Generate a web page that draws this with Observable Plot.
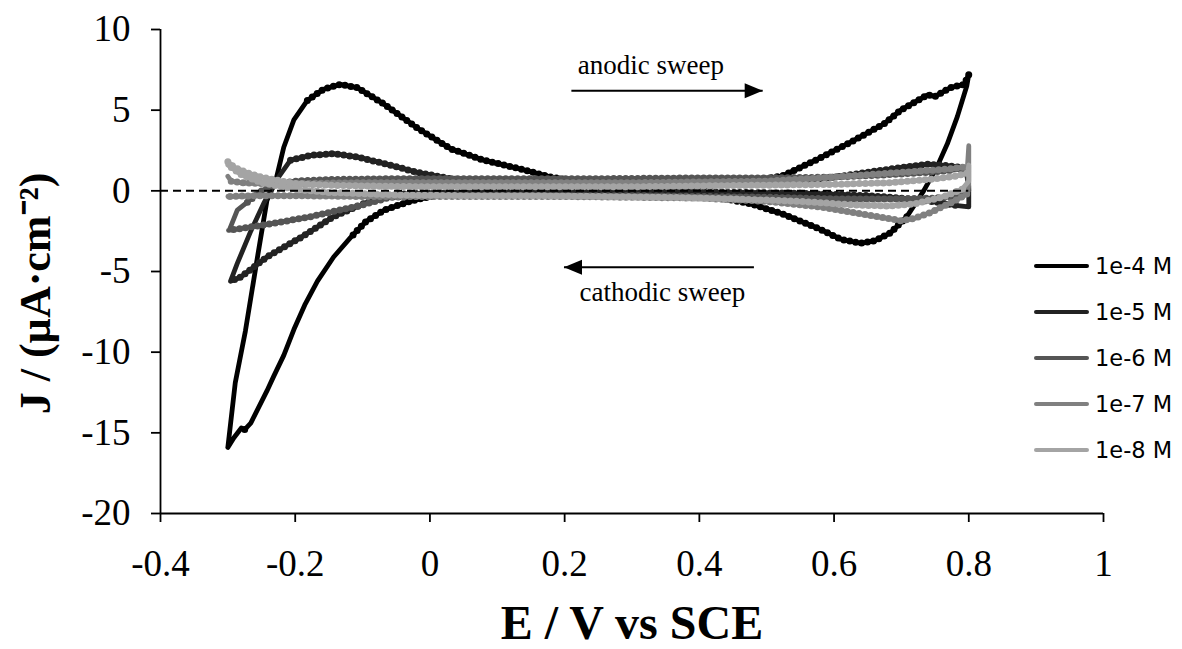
<!DOCTYPE html>
<html>
<head>
<meta charset="utf-8">
<script src="https://cdn.jsdelivr.net/npm/d3@7"></script>
<script src="https://cdn.jsdelivr.net/npm/@observablehq/plot@0.6"></script>
<style>
  body { margin: 0; background: #fff; }
  #chart { position: relative; width: 1182px; height: 649px; }
  #legend { position: absolute; left: 1034px; top: 0; font-family: "DejaVu Sans", sans-serif; font-size: 22.5px; color: #000; }
  #legend .row { position: absolute; left: 0; height: 30px; display: flex; align-items: center; white-space: nowrap; }
  #legend .swatch { width: 55px; height: 4.5px; border-radius: 2px; margin-right: 6px; }
</style>
</head>
<body>
<div id="chart"></div>
<script>
// Cyclic voltammograms at five concentrations: potential E (V vs SCE), current density J (µA·cm⁻²)
const concentrations = ["1e-4 M", "1e-5 M", "1e-6 M", "1e-7 M", "1e-8 M"];
const grays = ["#000000", "#222222", "#555555", "#808080", "#a4a4a4"];

// 1e-4 M: anodic sweep from -0.3 V to 0.8 V, then cathodic sweep back
const E_1e4 = [-0.300,-0.289,-0.274,-0.258,-0.242,-0.229,-0.217,-0.202,-0.182,-0.158,-0.133,-0.108,-0.069,-0.019,0.031,0.080,0.130,0.180,0.230,0.300,0.380,0.450,0.500,0.525,0.575,0.624,0.674,0.699,0.720,0.739,0.750,0.773,0.793,0.800,
               0.797,0.783,0.768,0.753,0.733,0.708,0.684,0.660,0.639,0.610,0.575,0.525,0.476,0.420,0.350,0.250,0.150,0.080,0.006,-0.030,-0.068,-0.095,-0.118,-0.143,-0.167,-0.185,-0.202,-0.217,-0.232,-0.242,-0.266,-0.275,-0.280,-0.291,-0.300];
const J_1e4 = [-15.9,-11.9,-8.7,-4.6,-0.6,0.6,2.7,4.4,5.6,6.3,6.6,6.4,5.4,3.9,2.6,1.9,1.4,0.85,0.5,0.3,0.25,0.45,0.75,0.95,1.95,3.0,4.15,5.0,5.5,5.95,5.85,6.4,6.6,7.2,
               6.5,4.6,2.9,1.5,0.0,-1.6,-2.6,-3.1,-3.25,-3.0,-2.3,-1.45,-0.8,-0.35,-0.1,0.0,0.05,-0.05,-0.3,-0.65,-1.2,-1.9,-2.9,-4.1,-5.6,-7.0,-8.6,-10.2,-11.5,-12.4,-14.4,-14.8,-14.7,-15.3,-15.9];

// 1e-5 M
const E_1e5 = [-0.296,-0.286,-0.266,-0.247,-0.229,-0.207,-0.177,-0.143,-0.108,-0.069,-0.019,0.031,0.080,0.150,0.250,0.350,0.450,0.530,0.600,0.650,0.700,0.740,0.770,0.795,
               0.800,0.800,0.780,0.753,0.700,0.650,0.550,0.450,0.350,0.250,0.150,0.080,0.020,-0.044,-0.093,-0.143,-0.192,-0.242,-0.281,-0.296];
const J_1e5 = [-5.6,-4.5,-2.5,-0.8,0.6,1.9,2.2,2.3,2.1,1.7,1.15,0.75,0.55,0.4,0.3,0.3,0.4,0.55,0.85,1.15,1.45,1.65,1.55,1.4,
               0.3,-1.0,-0.9,-0.7,-0.45,-0.3,-0.15,-0.1,-0.05,-0.05,-0.1,-0.15,-0.1,-0.2,-0.7,-1.6,-2.9,-4.1,-5.35,-5.6];

// 1e-6 M
const E_1e6 = [-0.298,-0.286,-0.271,-0.250,-0.230,-0.200,-0.150,-0.050,0.100,0.250,0.400,0.500,0.600,0.680,0.740,0.780,0.798,
               0.800,0.790,0.750,0.700,0.600,0.500,0.400,0.300,0.200,0.100,0.000,-0.059,-0.103,-0.140,-0.177,-0.217,-0.252,-0.299];
const J_1e6 = [-2.45,-1.2,-0.7,0.0,0.4,0.6,0.7,0.75,0.75,0.75,0.8,0.8,0.85,1.0,1.15,1.3,1.4,
               0.0,-0.3,-0.45,-0.5,-0.5,-0.4,-0.35,-0.3,-0.3,-0.3,-0.3,-0.4,-0.9,-1.25,-1.6,-1.9,-2.15,-2.45];

// 1e-7 M
const E_1e7 = [-0.300,-0.295,-0.280,-0.250,-0.200,-0.100,0.000,0.100,0.200,0.300,0.400,0.500,0.580,0.650,0.720,0.770,0.798,0.800,
               0.800,0.797,0.780,0.743,0.720,0.699,0.650,0.580,0.500,0.400,0.300,0.200,0.100,0.000,-0.100,-0.200,-0.260,-0.300];
const J_1e7 = [0.9,0.6,0.5,0.45,0.45,0.5,0.5,0.5,0.5,0.5,0.55,0.6,0.8,1.0,1.2,1.35,1.5,2.8,
               0.4,-0.2,-0.6,-1.35,-1.7,-1.85,-1.5,-1.0,-0.65,-0.45,-0.4,-0.35,-0.35,-0.35,-0.35,-0.3,-0.3,-0.35];

// 1e-8 M
const E_1e8 = [-0.300,-0.290,-0.270,-0.250,-0.220,-0.200,-0.150,-0.100,0.000,0.100,0.200,0.300,0.400,0.500,0.600,0.680,0.740,0.780,0.798,0.800,
               0.800,0.790,0.760,0.720,0.680,0.620,0.550,0.450,0.350,0.250,0.150,0.050,-0.050,-0.150,-0.200,-0.250,-0.280,-0.300];
const J_1e8 = [1.8,1.45,1.1,0.85,0.6,0.45,0.35,0.3,0.25,0.25,0.25,0.25,0.3,0.35,0.4,0.5,0.7,0.9,1.1,1.6,
               0.6,0.1,-0.4,-0.8,-0.95,-0.85,-0.65,-0.5,-0.4,-0.35,-0.3,-0.3,-0.25,-0.1,0.1,0.5,1.0,1.6];

const potentials = [E_1e4, E_1e5, E_1e6, E_1e7, E_1e8];
const currents = [J_1e4, J_1e5, J_1e6, J_1e7, J_1e8];

const xTicks = [-0.4, -0.2, 0, 0.2, 0.4, 0.6, 0.8, 1];
const yTicks = [-20, -15, -10, -5, 0, 5, 10];

const xTitle = "E / V vs SCE";
const yTitle = "J / (µA·cm⁻²)";

// sweep-direction notes
const notes = [
  {label: "anodic sweep", x: 0.328, y: 7.75},
  {label: "cathodic sweep", x: 0.345, y: -6.3}
];
const sweepArrows = [
  {x1: 0.21, x2: 0.494, y: 6.2},
  {x1: 0.481, x2: 0.199, y: -4.74}
];

const xDomain = [-0.4, 1];
const yDomain = [-20, 10];

// one row per sample, tagged with its concentration; "steep" marks samples on
// fast-changing stretches, where the trace is drawn without its ripple
const series = concentrations.map((c, k) => {
  const E = potentials[k], J = currents[k];
  return E.map((e, i) => {
    const a = Math.max(0, i - 1), b = Math.min(E.length - 1, i + 1);
    const dx = Math.abs(E[b] - E[a]) / (xDomain[1] - xDomain[0]) * 943;
    const dy = Math.abs(J[b] - J[a]) / (yDomain[1] - yDomain[0]) * 484;
    return {conc: c, E: e, J: J[i], steep: dy > 1.3 * dx};
  });
});

// filled arrowhead with its tip at the anchor point, pointing right
const arrowHead = {
  draw(context) {
    context.moveTo(0, 0);
    context.lineTo(-18, -7.5);
    context.lineTo(-18, 7.5);
    context.closePath();
  }
};

// each trace: a solid core plus a row of round beads that gives the rippled edge
const curveMarks = series.flatMap(rows => [
  Plot.line(rows, {x: "E", y: "J", z: "conc", stroke: "conc", strokeWidth: 4.8, strokeLinejoin: "round", strokeLinecap: "round"}),
  Plot.line(rows, {x: "E", y: d => (d.steep ? NaN : d.J), z: "conc", stroke: "conc", strokeWidth: 7, strokeDasharray: "0 6", strokeLinecap: "round"})
]);

const chart = Plot.plot({
  width: 1182,
  height: 649,
  marginLeft: 160,
  marginRight: 79,
  marginTop: 29,
  marginBottom: 136,
  style: {fontFamily: '"Liberation Serif", "Times New Roman", serif', background: "#fff", color: "#000", overflow: "visible"},
  x: {domain: xDomain},
  y: {domain: yDomain},
  color: {domain: concentrations, range: grays},
  marks: [
    ...curveMarks,
    Plot.ruleY([0], {x1: -0.4, x2: 0.8, stroke: "#000", strokeWidth: 2, strokeDasharray: "8 5"}),
    Plot.ruleX([-0.4], {stroke: "#000", strokeWidth: 1.8}),
    Plot.ruleY([-20], {stroke: "#000", strokeWidth: 1.8}),
    Plot.axisX({ticks: xTicks, tickFormat: d => String(d), tickSize: 9, tickPadding: 27, fontSize: 37, strokeWidth: 1.8, label: null}),
    Plot.axisY({ticks: yTicks, tickFormat: d => String(d), tickSize: 9, tickPadding: 21, fontSize: 37, strokeWidth: 1.8, label: null}),
    Plot.link(sweepArrows, {x1: "x1", x2: "x2", y1: "y", y2: "y", stroke: "#000", strokeWidth: 2}),
    Plot.dot(sweepArrows, {x: "x2", y: "y", symbol: arrowHead, r: 5, fill: "#000", stroke: null, rotate: d => (d.x2 > d.x1 ? 0 : 180)}),
    Plot.text(notes, {x: "x", y: "y", text: "label", fontSize: 27}),
    Plot.text([xTitle], {frameAnchor: "bottom", dy: 110, lineAnchor: "middle", textAnchor: "middle", fontSize: 48, fontWeight: "bold"}),
    Plot.text([yTitle], {frameAnchor: "left", dx: -125, dy: 22, rotate: -90, lineAnchor: "middle", textAnchor: "middle", fontSize: 44, fontWeight: "bold"})
  ]
});

const holder = document.getElementById("chart");
holder.appendChild(chart);

// legend to the right of the plot area
const legend = document.createElement("div");
legend.id = "legend";
const rowCenters = [266, 312, 358, 404, 450];
concentrations.forEach((c, k) => {
  const row = document.createElement("div");
  row.className = "row";
  row.style.top = (rowCenters[k] - 15) + "px";
  const sw = document.createElement("div");
  sw.className = "swatch";
  sw.style.background = grays[k];
  const lab = document.createElement("span");
  lab.textContent = c;
  row.appendChild(sw);
  row.appendChild(lab);
  legend.appendChild(row);
});
holder.appendChild(legend);
</script>
</body>
</html>
